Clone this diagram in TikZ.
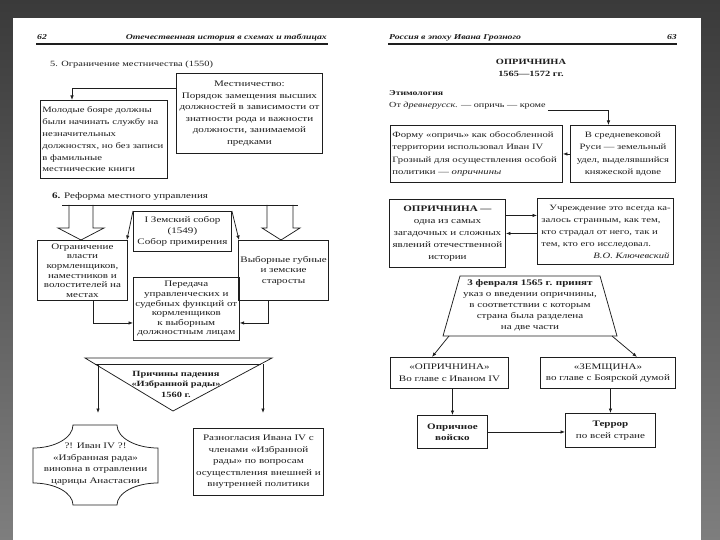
\documentclass[tikz,border=0pt]{standalone}
\usepackage{fontspec}
\setmainfont[FakeStretch=1.3]{Liberation Serif}
\usetikzlibrary{arrows.meta}
\definecolor{frametop}{HTML}{3A3A3A}
\definecolor{framebot}{HTML}{7E7E7E}
\definecolor{ink}{HTML}{1E1E1E}
\begin{document}
\begin{tikzpicture}[x=1pt,y=-1pt,
  every node/.style={font=\fontsize{8.5}{11.5}\selectfont, text=ink},
  bx/.style={draw=ink, line width=0.9pt, inner sep=2pt, align=center, anchor=north west},
  ln/.style={draw=ink, line width=0.75pt},
  arr/.style={ln, -{Latex[length=4.5pt,width=3.5pt]}},
  hdr/.style={font=\fontsize{7.5}{9}\selectfont\bfseries\itshape, inner sep=0pt},
  rule/.style={draw=ink, line width=1.2pt},
  plain/.style={inner sep=0pt, align=center},
  tight/.style={font=\fontsize{8.5}{9.6}\selectfont},
  narrow/.style={font=\fontsize{8.2}{12.5}\selectfont}
]
\useasboundingbox (0,0) rectangle (720,540);
\shade[top color=frametop, bottom color=framebot] (0,0) rectangle (720,540);
\fill[white] (13,18) rectangle (701,540);

% ---------- headers ----------
\node[hdr, anchor=base west] (p62) at (37,40) {62};
\node[hdr, anchor=base east] (t62) at (327,40) {Отечественная история в схемах и таблицах};
\draw[rule] (36,44) -- (328,44);
\node[hdr, anchor=base west] (t63) at (389,40) {Россия в эпоху Ивана Грозного};
\node[hdr, anchor=base east] (p63) at (677,40) {63};
\draw[rule] (388,44) -- (677,44);

% ---------- section 5 ----------
\node[plain, anchor=base west, font=\fontsize{8}{9}\selectfont] (s5) at (50,67) {5. Ограничение местничества (1550)};
\node[bx, minimum width=146pt, minimum height=80pt] (mest) at (176,73)
  {Местничество:\\Порядок замещения высших\\должностей в зависимости от\\знатности рода и важности\\должности, занимаемой\\предками};
\node[bx, minimum width=127pt, minimum height=78pt, align=left, text width=123pt, font=\fontsize{8.2}{11.8}\selectfont] (mol) at (40,100)
  {Молодые бояре должны\\были начинать службу на\\незначительных\\должностях, но без записи\\в фамильные\\местнические книги};
\draw[arr] ([yshift=-15pt]mest.north west) -| ([xshift=32pt]mol.north west);

% ---------- section 6 ----------
\node[plain, anchor=base west, font=\fontsize{8.5}{9}\selectfont] (s6) at (52,199) {\textbf{6.} Реформа местного управления};
\coordinate (h6l) at (62,205);
\coordinate (h6r) at (298,205);
\draw[ln] (h6l) -- (h6r);
\draw[ln] (69,205) -- (69,228) -- (58,228) -- (81,240) -- (104,228) -- (93,228) -- (93,205);
\draw[ln] (267,205) -- (267,228) -- (262,228) -- (281,240) -- (300,228) -- (293,228) -- (293,205);

\node[bx, minimum width=98pt, minimum height=40pt, font=\fontsize{8.5}{11}\selectfont] (zs) at (133,211)
  {I Земский собор\\(1549)\\Собор примирения};
\node[bx, tight, minimum width=90pt, minimum height=60pt] (ogr) at (37,240)
  {Ограничение\\власти\\кормленщиков,\\наместников и\\волостителей на\\местах};
\node[bx, minimum width=87pt, minimum height=60pt, font=\fontsize{8.5}{10.5}\selectfont] (vyb) at (238,240)
  {Выборные губные\\и земские\\старосты};
\node[bx, tight, minimum width=99pt, minimum height=63pt] (per) at (133,277)
  {Передача\\управленческих и\\судебных функций от\\кормленщиков\\к выборным\\должностным лицам};
\draw[arr] (zs.north west) -- ([xshift=-1pt]ogr.north east);
\draw[arr] (zs.north east) -- ([xshift=1pt]vyb.north west);
\draw[arr] ([xshift=56pt]ogr.south west) |- ([yshift=-14pt]per.west);
\draw[arr] ([xshift=30pt]vyb.south west) |- ([yshift=-14pt]per.east);

% ---------- Причины падения ----------
\draw[ln] (85,358) -- (272,358) -- (173,411) -- cycle;
\draw[ln] (95,364) -- (261,364);
\node[plain, font=\fontsize{8}{10.5}\selectfont\bfseries] (prich) at (176,384)
  {Причины падения\\«Избранной рады»\\1560 г.};
\coordinate (pl) at (98,365);
\coordinate (pr) at (263,364);
\coordinate (plt) at (98,413);
\coordinate (prt) at (263,413);
\draw[arr] (pl) -- (plt);
\draw[arr] (pr) -- (prt);

\draw[ln] (73,425) -- (117,425)
  .. controls (117,437.7) and (135.4,448) .. (158,448) -- (158,483)
  .. controls (135.4,483) and (117,492.8) .. (117,505) -- (73,505)
  .. controls (73,492.8) and (55.1,483) .. (33,483) -- (33,448)
  .. controls (55.1,448) and (73,437.7) .. (73,425) -- cycle;
\node[plain] (plq) at (95.5,464)
  {?! Иван IV ?!\\«Избранная рада»\\виновна в отравлении\\царицы Анастасии};
\node[bx, minimum width=130pt, minimum height=67pt] (razn) at (193,428)
  {Разногласия Ивана IV с\\членами «Избранной\\рады» по вопросам\\осуществления внешней и\\внутренней политики};

% ---------- right page ----------
\node[plain, font=\fontsize{8}{12}\selectfont\bfseries] (opr) at (531,68) {ОПРИЧНИНА\\1565—1572 гг.};
\node[plain, anchor=base west, font=\fontsize{7.5}{9}\selectfont\bfseries] (etl) at (389,96) {Этимология};
\node[plain, anchor=base west, font=\fontsize{7.8}{9}\selectfont] (etym) at (389,108) {От \textit{древнерусск.} — опричь — кроме};
\node[bx, narrow, minimum width=172pt, minimum height=57pt, align=left, text width=168pt] (form) at (390,125)
  {Форму «опричь» как обособленной\\территории использовал Иван IV\\Грозный для осуществления особой\\политики — \textit{опричнины}};
\node[bx, narrow, minimum width=105pt, minimum height=57pt] (vsr) at (570,125)
  {В средневековой\\Руси — земельный\\удел, выделявшийся\\княжеской вдове};
\draw[arr] ([xshift=2pt,yshift=-2pt]etym.base east) -| ([xshift=-14.5pt]vsr.north);
\draw[arr] (vsr.west |- form.east) -- (form.east);

\node[bx, font=\fontsize{8.5}{12}\selectfont, minimum width=116pt, minimum height=68pt] (oprd) at (389,199)
  {\textbf{ОПРИЧНИНА —}\\одна из самых\\загадочных и сложных\\явлений отечественной\\истории};
\node[bx, font=\fontsize{8.2}{12}\selectfont, minimum width=136pt, minimum height=66pt, align=left, text width=128pt] (quote) at (537,198)
  {\makebox[\linewidth][s]{\hspace*{8pt}Учреждение это всегда ка-}\\
   \makebox[\linewidth][s]{залось странным, как тем,}\\
   \makebox[\linewidth][s]{кто страдал от него, так и}\\
   тем, кто его исследовал.\\
   \hspace*{\fill}\textit{В.О. Ключевский}};
\draw[arr] ([yshift=18pt]oprd.east) -- ([yshift=16pt]quote.west);
\draw[arr] (quote.west |- oprd.east) -- (oprd.east);

\coordinate (ttl) at (460,276);
\coordinate (ttr) at (600,276);
\coordinate (tbr) at (617,336);
\coordinate (tbl) at (443,336);
\draw[ln] (ttl) -- (ttr) -- (tbr) -- (tbl) -- cycle;
\node[plain, font=\fontsize{8.5}{11}\selectfont] (ukaz) at (530,305)
  {\textbf{3 февраля 1565 г. принят}\\указ о введении опричнины,\\в соответствии с которым\\страна была разделена\\на две части};

\node[bx, minimum width=118pt, minimum height=31pt] (bopr) at (390,357) {«ОПРИЧНИНА»\\Во главе с Иваном IV};
\node[bx, minimum width=135pt, minimum height=31pt] (bzem) at (540,357) {«ЗЕМЩИНА»\\во главе с Боярской думой};
\coordinate (al) at (449,336);
\coordinate (ar) at (612,336);
\draw[arr] (al) -- ([xshift=42pt]bopr.north west);
\draw[arr] (ar) -- ([xshift=97pt]bzem.north west);

\node[bx, minimum width=70pt, minimum height=33pt, font=\fontsize{8.5}{11}\selectfont\bfseries] (voj) at (417,415) {Опричное\\войско};
\node[bx, minimum width=90pt, minimum height=34pt] (ter) at (565,413) {\textbf{Террор}\\по всей стране};
\draw[arr] (bopr.south -| voj.north) -- (voj.north);
\draw[arr] (bzem.south -| ter.north) -- (ter.north);
\draw[arr] (voj.east) -- (voj.east -| ter.west);
\end{tikzpicture}
\end{document}
